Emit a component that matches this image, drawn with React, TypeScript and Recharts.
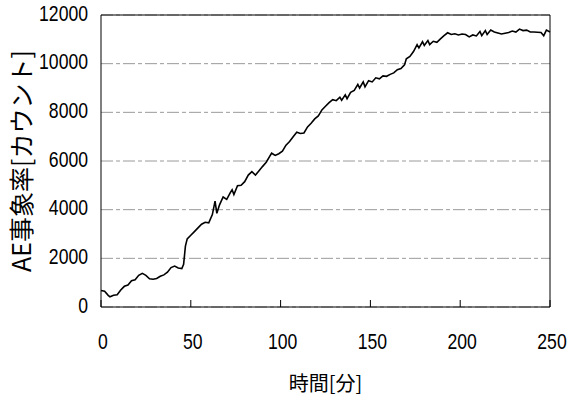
import { LineChart, Line, XAxis, YAxis, CartesianGrid, ReferenceLine, Label } from "recharts";

const timeMin = [
  0, 2, 4, 5, 7, 9, 11, 13, 15, 17, 19, 21, 23, 25, 27, 29, 31, 33, 35, 37, 39, 41, 43, 45, 46, 47, 48,
  50, 52, 54, 56, 58, 60, 62, 63.5, 64.5, 66, 68, 70, 72, 73, 74, 76, 78, 80, 82, 84, 86, 88, 90, 92,
  94, 95, 97, 99, 101, 103, 105, 107, 109, 111, 113, 115, 117, 119, 121, 123, 125, 127, 129, 131, 133,
  134, 136, 137, 139, 141, 143, 144, 146, 147, 149, 151, 153, 155, 157, 159, 161, 163, 165, 167, 169,
  170, 172, 174, 176, 177, 179, 180, 182, 183, 185, 187, 189, 191, 193, 195, 197, 199, 201, 203, 205,
  207, 209, 211, 212, 214, 215, 217, 219, 221, 223, 225, 227, 229, 231, 233, 235, 237, 239, 241, 243,
  245, 246.5, 248, 250,
];

const aeRate = [
  680, 650, 480, 420, 480, 500, 700, 850, 900, 1080, 1120, 1300, 1380, 1300, 1160, 1140, 1170, 1260,
  1320, 1430, 1620, 1680, 1600, 1580, 1750, 2500, 2800, 2950, 3100, 3250, 3400, 3480, 3460, 3800, 4350,
  3850, 4200, 4520, 4420, 4700, 4820, 4620, 4980, 5000, 5150, 5420, 5560, 5420, 5600, 5780, 5950, 6200,
  6320, 6230, 6300, 6400, 6650, 6800, 7000, 7180, 7130, 7150, 7400, 7550, 7730, 7850, 8100, 8250, 8400,
  8520, 8480, 8620, 8500, 8720, 8560, 8820, 8900, 9150, 9000, 9250, 9050, 9300, 9250, 9420, 9380, 9500,
  9480, 9560, 9620, 9750, 9800, 9950, 10200, 10300, 10500, 10780, 10650, 10900, 10750, 10950, 10780,
  10920, 10880, 11020, 11150, 11270, 11200, 11230, 11180, 11220, 11200, 11100, 11180, 11140, 11320,
  11150, 11360, 11200, 11380, 11300, 11260, 11220, 11250, 11280, 11340, 11300, 11420, 11360, 11380,
  11300, 11300, 11290, 11280, 11150, 11380, 11300,
];

const xTicks = [0, 50, 100, 150, 200, 250];
const yTicks = [0, 2000, 4000, 6000, 8000, 10000, 12000];

const data = timeMin.map((t, i) => ({ t, v: aeRate[i] }));

const numFont = "'Liberation Sans', Arial, sans-serif";
const jpFont = "'Noto Sans CJK JP', sans-serif";

// narrow digits like the scanned original
const XTick = (props: any) => {
  const { x, y, payload } = props;
  return (
    <g>
      <line x1={x} y1={y} x2={x} y2={y - 7} stroke="#000" strokeWidth={1} />
      <text
        transform={`translate(${x + 2},${y + 36}) scale(0.8,1)`}
        textAnchor="middle"
        dominantBaseline="middle"
        fontSize={22}
        fontFamily={numFont}
        fill="#000"
      >
        {payload.value}
      </text>
    </g>
  );
};

const YTick = (props: any) => {
  const { x, y, payload } = props;
  return (
    <text
      transform={`translate(${x},${y}) scale(0.8,1)`}
      textAnchor="end"
      dominantBaseline="middle"
      fontSize={22}
      fontFamily={numFont}
      fill="#000"
    >
      {payload.value}
    </text>
  );
};

export default function App() {
  return (
    <div style={{ position: "absolute", left: 0, top: 0, background: "#fff" }}>
      <LineChart width={577} height={396} data={data} margin={{ top: 15, right: 27, left: 0, bottom: 0 }}>
        <CartesianGrid horizontal vertical={false} stroke="#9a9a9a" strokeDasharray="12 3 4 3" />
        <XAxis
          dataKey="t"
          type="number"
          domain={[0, 250]}
          ticks={xTicks}
          tickLine={false}
          tickSize={0}
          tickMargin={0}
          tick={<XTick />}
          stroke="#000"
          height={89}
          interval={0}
        >
          <Label value="時間[分]" position="insideBottom" offset={5} fontSize={20} fontFamily={jpFont} fill="#000" />
        </XAxis>
        <YAxis
          type="number"
          domain={[0, 12000]}
          ticks={yTicks}
          width={101}
          tickLine={false}
          tickSize={8}
          tickMargin={5}
          stroke="#000"
          tick={<YTick />}
          interval={0}
        >
          <Label
            value="AE事象率[カウント]"
            angle={-90}
            position="insideLeft"
            offset={22}
            textAnchor="middle"
            fontSize={25}
            fontFamily={jpFont}
            fill="#000"
          />
        </YAxis>
        <ReferenceLine y={12000} stroke="#000" />
        <ReferenceLine x={250} stroke="#000" />
        <Line type="linear" dataKey="v" stroke="#000" strokeWidth={1.6} dot={false} isAnimationActive={false} />
      </LineChart>
    </div>
  );
}
